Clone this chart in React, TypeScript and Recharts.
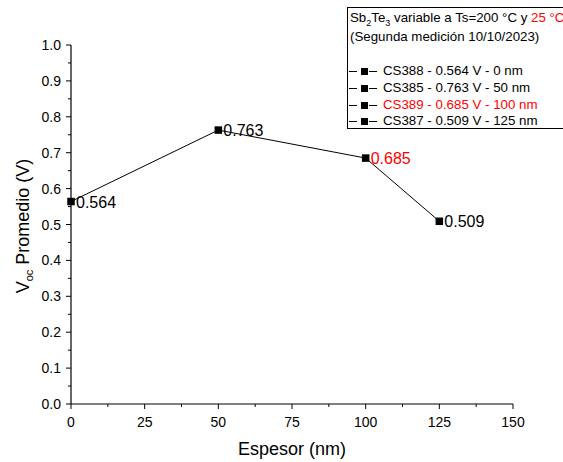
import { LineChart, Line, XAxis, YAxis, LabelList } from 'recharts'

const thickness = [0, 50, 100, 125]
const vocValues = [0.564, 0.763, 0.685, 0.509]
const samples = ['CS388', 'CS385', 'CS389', 'CS387']
const highlighted = [false, false, true, false]

const xTicks = [0, 12.5, 25, 37.5, 50, 62.5, 75, 87.5, 100, 112.5, 125, 137.5, 150]
const yTicks = [0, 0.05, 0.1, 0.15, 0.2, 0.25, 0.3, 0.35, 0.4, 0.45, 0.5, 0.55, 0.6, 0.65, 0.7, 0.75, 0.8, 0.85, 0.9, 0.95, 1.0]

const data = thickness.map((t, i) => ({ t, voc: vocValues[i] }))

const FONT = '"Liberation Sans", Arial, sans-serif'
const RED = '#ff0000'

const XTick = (props: any) => {
  const { x, y, payload } = props
  const major = payload.value % 25 === 0
  return (
    <g>
      <line x1={x} x2={x} y1={y} y2={y + (major ? 5 : 3)} stroke="#000" strokeWidth={1} />
      {major && (
        <text x={x} y={y + 23} textAnchor="middle" fontSize={14} fontFamily={FONT} fill="#000">
          {payload.value}
        </text>
      )}
    </g>
  )
}

const YTick = (props: any) => {
  const { x, y, payload } = props
  const major = Math.round(payload.value * 100) % 10 === 0
  return (
    <g>
      <line x1={x} x2={x - (major ? 5 : 3)} y1={y} y2={y} stroke="#000" strokeWidth={1} />
      {major && (
        <text x={x - 10} y={y + 5} textAnchor="end" fontSize={14} fontFamily={FONT} fill="#000">
          {payload.value.toFixed(1)}
        </text>
      )}
    </g>
  )
}

const SquareDot = (props: any) => {
  const { cx, cy, index } = props
  return <rect key={`dot-${index}`} x={cx - 3.75} y={cy - 3.75} width={7.5} height={7.5} fill="#000" />
}

const PointLabel = (props: any) => {
  const { x, y, value, index } = props
  return (
    <text x={x + 5} y={y + 6} fontSize={16} fontFamily={FONT} fill={highlighted[index] ? RED : '#000'}>
      {value.toFixed(3)}
    </text>
  )
}

const LegendSymbol = () => (
  <svg width={28} height={8} style={{ marginRight: 6, flexShrink: 0 }}>
    <line x1={0} x2={8} y1={4.5} y2={4.5} stroke="#000" />
    <rect x={12} y={1} width={7} height={7} fill="#000" />
    <line x1={20} x2={28} y1={4.5} y2={4.5} stroke="#000" />
  </svg>
)

export default function App() {
  return (
    <div style={{ position: 'absolute', left: 0, top: 0, width: 563, height: 462, overflow: 'hidden', background: '#fff' }}>
      <LineChart width={563} height={462} data={data} margin={{ top: 45, right: 50, bottom: 0, left: 0 }}>
        <XAxis
          dataKey="t"
          type="number"
          domain={[0, 150]}
          ticks={xTicks}
          interval={0}
          height={58}
          tickSize={0}
          tickMargin={0}
          tickLine={false}
          tick={<XTick />}
          axisLine={{ stroke: '#000', strokeWidth: 1.2 }}
        />
        <YAxis
          type="number"
          domain={[0, 1]}
          ticks={yTicks}
          interval={0}
          width={71}
          tickSize={0}
          tickMargin={0}
          tickLine={false}
          tick={<YTick />}
          axisLine={{ stroke: '#000', strokeWidth: 1.2 }}
        />
        <Line
          dataKey="voc"
          stroke="#000"
          strokeWidth={1}
          dot={SquareDot}
          activeDot={false}
          isAnimationActive={false}
        >
          <LabelList dataKey="voc" content={<PointLabel />} />
        </Line>
      </LineChart>
      <svg width={563} height={462} style={{ position: 'absolute', left: 0, top: 0, pointerEvents: 'none' }}>
        <text x={292} y={455} textAnchor="middle" fontSize={18} fontFamily={FONT} fill="#000">
          Espesor (nm)
        </text>
        <text x={29} y={226} transform="rotate(-90 29 226)" textAnchor="middle" fontSize={18} fontFamily={FONT} fill="#000">
          V<tspan fontSize={11} dy={4}>oc</tspan>
          <tspan dy={-4}> Promedio (V)</tspan>
        </text>
      </svg>
      <div
        style={{
          position: 'absolute',
          left: 347,
          top: 7,
          width: 240,
          height: 122,
          border: '1px solid #000',
          fontFamily: FONT,
          fontSize: 13.3,
          color: '#000',
          background: '#fff',
          boxSizing: 'border-box',
          padding: '0 0 0 2px',
          lineHeight: '19px',
          whiteSpace: 'nowrap',
        }}
      >
        <div>
          Sb<sub style={{ fontSize: 9, lineHeight: 0 }}>2</sub>Te<sub style={{ fontSize: 9, lineHeight: 0 }}>3</sub> variable a Ts=200 °C y{' '}
          <span style={{ color: RED }}>25 °C</span>
        </div>
        <div>(Segunda medición 10/10/2023)</div>
        <div style={{ height: 17 }} />
        {samples.map((s, i) => (
          <div key={s} style={{ display: 'flex', alignItems: 'center', height: 16.7, lineHeight: '16px', marginLeft: -1 }}>
            <LegendSymbol />
            <span style={{ color: highlighted[i] ? RED : '#000' }}>
              {s} - {vocValues[i].toFixed(3)} V - {thickness[i]} nm
            </span>
          </div>
        ))}
      </div>
    </div>
  )
}
